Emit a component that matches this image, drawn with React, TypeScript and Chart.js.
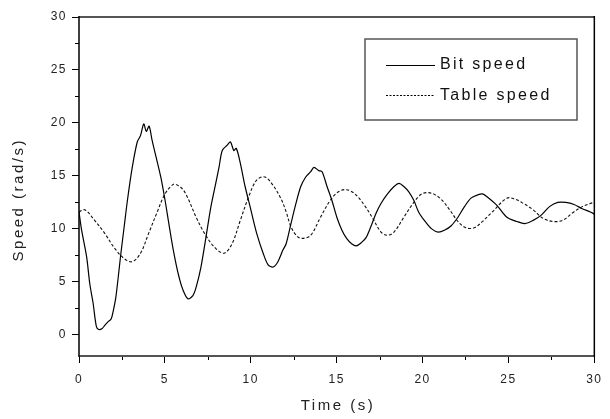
import React, { useEffect, useRef } from "react";
import { Chart, registerables } from "chart.js";

Chart.register(...registerables);

const bitTime = [0, 0.15, 0.44, 0.63, 0.82, 1.01, 1.15, 1.35, 1.5, 1.67, 1.87, 2.0, 2.15, 2.44, 2.63, 2.82, 3.1, 3.39, 3.58, 3.77, 3.92, 4.08, 4.25, 4.44, 4.76, 5.01, 5.2, 5.49, 5.8, 6.06, 6.34, 6.63, 6.82, 7.1, 7.39, 7.68, 7.96, 8.15, 8.34, 8.63, 8.82, 9.01, 9.16, 9.39, 9.67, 9.96, 10.34, 10.72, 11.01, 11.3, 11.58, 11.87, 12.06, 12.34, 12.63, 12.91, 13.2, 13.49, 13.68, 13.96, 14.15, 14.44, 14.72, 15.01, 15.3, 15.58, 15.87, 16.15, 16.44, 16.72, 17.01, 17.3, 17.58, 17.96, 18.34, 18.63, 18.91, 19.2, 19.49, 19.77, 20.15, 20.53, 20.91, 21.3, 21.67, 22.06, 22.44, 22.82, 23.2, 23.49, 23.77, 24.34, 24.91, 25.49, 25.96, 26.44, 26.91, 27.39, 27.87, 28.34, 28.82, 29.3, 29.77, 30];
const bitSpeed = [11.6, 9.9, 7.4, 4.8, 3.0, 0.8, 0.5, 0.6, 0.9, 1.2, 1.5, 2.3, 3.6, 7.7, 10.2, 12.7, 15.8, 18.2, 18.8, 19.9, 19.2, 19.7, 18.4, 17.1, 14.9, 12.7, 10.8, 8.0, 5.6, 4.2, 3.4, 3.7, 4.5, 6.4, 9.2, 12.1, 14.3, 15.8, 17.4, 17.9, 18.2, 17.4, 17.6, 16.2, 14.0, 12.1, 9.6, 7.7, 6.6, 6.4, 6.9, 8.0, 8.6, 10.5, 12.4, 14.0, 14.9, 15.4, 15.8, 15.5, 15.4, 14.0, 12.7, 11.1, 9.9, 9.1, 8.6, 8.4, 8.7, 9.2, 10.3, 11.5, 12.4, 13.3, 14.0, 14.3, 14.0, 13.5, 12.7, 11.6, 10.7, 10.0, 9.7, 9.9, 10.3, 11.1, 12.1, 12.9, 13.2, 13.3, 13.0, 12.2, 11.1, 10.7, 10.5, 10.8, 11.3, 12.1, 12.5, 12.5, 12.3, 11.9, 11.6, 11.4];

const tableTime = [0, 0.34, 0.91, 1.49, 2.06, 2.63, 3.1, 3.58, 4.06, 4.53, 5.01, 5.49, 5.77, 6.06, 6.34, 6.82, 7.3, 7.87, 8.44, 8.91, 9.39, 9.87, 10.34, 10.82, 11.3, 11.77, 12.06, 12.34, 12.7, 13.01, 13.49, 14.06, 14.63, 15.1, 15.58, 16.06, 16.63, 17.1, 17.58, 17.96, 18.34, 18.91, 19.49, 19.96, 20.44, 21.01, 21.58, 22.06, 22.53, 23.01, 23.49, 24.06, 24.91, 25.39, 25.87, 26.44, 27.01, 27.58, 28.15, 28.72, 29.3, 29.96];
const tableSpeed = [11.6, 11.8, 10.8, 9.6, 8.2, 7.2, 6.9, 7.7, 9.6, 11.5, 13.3, 14.2, 14.1, 13.7, 12.9, 11.1, 9.6, 8.3, 7.7, 8.6, 10.8, 13.0, 14.6, 14.9, 14.1, 12.8, 11.6, 10.2, 9.3, 9.1, 9.4, 11.1, 12.7, 13.5, 13.7, 13.3, 12.2, 11.0, 9.7, 9.4, 9.7, 11.1, 12.5, 13.3, 13.4, 12.9, 11.8, 10.7, 10.1, 10.1, 10.7, 11.6, 12.9, 12.8, 12.4, 11.8, 11.0, 10.7, 10.8, 11.5, 12.1, 12.5];

const xTicks = [0, 5, 10, 15, 20, 25, 30];
const yTicks = [0, 5, 10, 15, 20, 25, 30];
const seriesNames = ["Bit speed", "Table speed"];
const xTitle = "Time (s)";
const yTitle = "Speed (rad/s)";

const FONT = "'Liberation Sans', Arial, sans-serif";

const framePlugin = {
  id: "frame",
  beforeDraw(chart: any) {
    (chart.ctx as any).letterSpacing = "1.5px";
  },
  afterDraw(chart: any) {
    const ctx = chart.ctx;
    const { left, right, top, bottom } = chart.chartArea;
    const xs = chart.scales.x;
    const ys = chart.scales.y;
    ctx.save();
    (ctx as any).letterSpacing = "0px";
    // minor ticks
    ctx.strokeStyle = "#000";
    ctx.lineWidth = 1;
    ctx.beginPath();
    for (let i = 0; i < xTicks.length - 1; i++) {
      const v = (xTicks[i] + xTicks[i + 1]) / 2;
      const px = Math.round(xs.getPixelForValue(v)) + 0.5;
      ctx.moveTo(px, bottom);
      ctx.lineTo(px, bottom + 4);
    }
    for (let i = 0; i < yTicks.length - 1; i++) {
      const v = (yTicks[i] + yTicks[i + 1]) / 2;
      const py = Math.round(ys.getPixelForValue(v)) + 0.5;
      ctx.moveTo(left, py);
      ctx.lineTo(left - 4, py);
    }
    ctx.stroke();
    // frame
    ctx.strokeStyle = "#555";
    ctx.lineWidth = 2;
    ctx.beginPath();
    ctx.moveTo(left, top);
    ctx.lineTo(right, top);
    ctx.moveTo(left, bottom);
    ctx.lineTo(right, bottom);
    ctx.stroke();
    ctx.strokeStyle = "#000";
    ctx.lineWidth = 1.5;
    ctx.beginPath();
    ctx.moveTo(left, top - 1);
    ctx.lineTo(left, bottom + 1);
    ctx.moveTo(right, top - 1);
    ctx.lineTo(right, bottom + 1);
    ctx.stroke();

    // axis titles
    ctx.fillStyle = "#222";
    ctx.font = `15px ${FONT}`;
    (ctx as any).letterSpacing = "2.5px";
    ctx.textAlign = "center";
    ctx.textBaseline = "alphabetic";
    ctx.fillText(xTitle, (left + right) / 2 + 1.25, 410);
    ctx.save();
    ctx.translate(23, 201);
    ctx.rotate(-Math.PI / 2);
    ctx.fillText(yTitle, 1.25, 0);
    ctx.restore();

    // legend
    ctx.strokeStyle = "#555";
    ctx.lineWidth = 1.5;
    ctx.strokeRect(365, 39, 212, 81);
    ctx.strokeStyle = "#000";
    ctx.lineWidth = 1;
    ctx.beginPath();
    ctx.moveTo(386, 65.5);
    ctx.lineTo(435, 65.5);
    ctx.stroke();
    ctx.setLineDash([2, 1.5]);
    ctx.beginPath();
    ctx.moveTo(386, 95.5);
    ctx.lineTo(435, 95.5);
    ctx.stroke();
    ctx.setLineDash([]);
    ctx.font = `16px ${FONT}`;
    (ctx as any).letterSpacing = "2.3px";
    ctx.textAlign = "left";
    ctx.fillStyle = "#111";
    ctx.fillText(seriesNames[0], 440, 68.5);
    ctx.fillText(seriesNames[1], 440, 100);
    ctx.restore();
    (ctx as any).letterSpacing = "0px";
  },
};

export default function App() {
  const ref = useRef<HTMLCanvasElement>(null);
  useEffect(() => {
    if (!ref.current) return;
    const chart = new Chart(ref.current, {
      type: "line",
      data: {
        datasets: [
          {
            label: seriesNames[0],
            data: bitTime.map((t, i) => ({ x: t, y: bitSpeed[i] })),
            borderColor: "#000",
            borderWidth: 1.2,
            pointRadius: 0,
            tension: 0.3,
            fill: false,
          },
          {
            label: seriesNames[1],
            data: tableTime.map((t, i) => ({ x: t, y: tableSpeed[i] })),
            borderColor: "#111",
            borderWidth: 1.1,
            borderDash: [3, 2],
            pointRadius: 0,
            tension: 0.35,
            fill: false,
          },
        ],
      },
      options: {
        animation: false,
        responsive: false,
        devicePixelRatio: 1,
        layout: { padding: { top: 17, right: 6, left: 0, bottom: 0 }, autoPadding: false },
        plugins: { legend: { display: false }, tooltip: { enabled: false } },
        scales: {
          x: {
            type: "linear",
            min: 0,
            max: 30,
            afterFit: (s: any) => {
              s.height = 63;
            },
            afterBuildTicks: (s: any) => {
              s.ticks = xTicks.map((v) => ({ value: v }));
            },
            ticks: {
              font: { family: FONT, size: 12 },
              color: "#222",
              padding: 9,
              maxRotation: 0,
              autoSkip: false,
            },
            grid: { drawOnChartArea: false, drawTicks: true, tickLength: 7, color: "#000", lineWidth: 1 },
            border: { display: false },
          },
          y: {
            type: "linear",
            min: -2,
            max: 30,
            afterFit: (s: any) => {
              s.width = 79;
            },
            afterBuildTicks: (s: any) => {
              s.ticks = yTicks.map((v) => ({ value: v }));
            },
            ticks: {
              font: { family: FONT, size: 12 },
              color: "#222",
              padding: 5,
              autoSkip: false,
            },
            grid: { drawOnChartArea: false, drawTicks: true, tickLength: 7, color: "#000", lineWidth: 1 },
            border: { display: false },
          },
        },
      },
      plugins: [framePlugin],
    });
    return () => chart.destroy();
  }, []);
  return (
    <div style={{ position: "absolute", left: 0, top: 0, width: 610, height: 419, background: "#fff" }}>
      <canvas ref={ref} width={610} height={419} />
    </div>
  );
}
